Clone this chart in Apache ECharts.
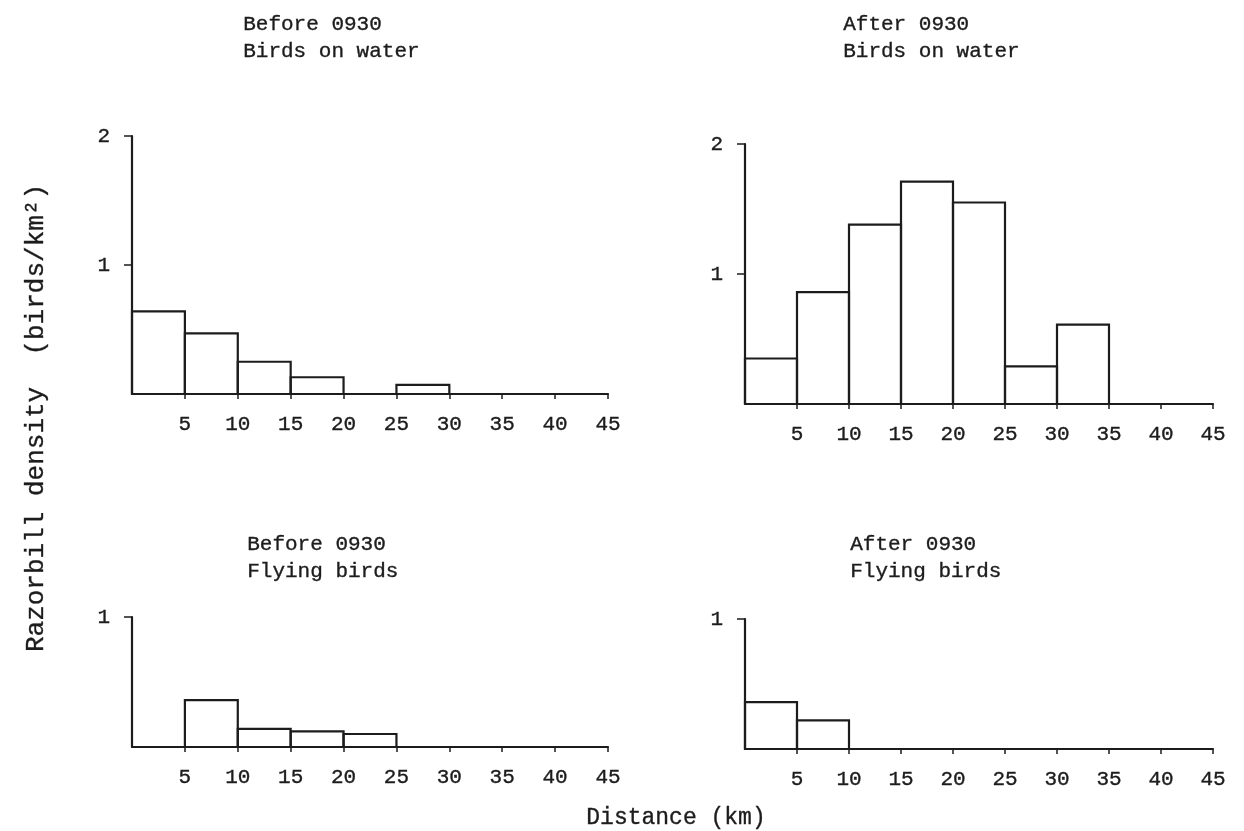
<!DOCTYPE html>
<html>
<head>
<meta charset="utf-8">
<title>Razorbill density by distance</title>
<script src="https://cdn.jsdelivr.net/npm/echarts@6/dist/echarts.min.js"></script>
<style>
  html, body { margin: 0; padding: 0; background: #ffffff; }
  #chart { width: 1244px; height: 831px; }
</style>
</head>
<body>
<div id="chart"></div>
<script>
// Distance bins (km): each bar covers [start, start + binWidth]
const binStarts = [0, 5, 10, 15, 20, 25, 30, 35, 40];
const binWidth = 5;

// Razorbill density (birds/km²) per distance bin
const beforeWater  = [0.64, 0.47, 0.25, 0.13, 0, 0.07, 0, 0, 0];
const afterWater   = [0.35, 0.86, 1.38, 1.71, 1.55, 0.29, 0.61, 0, 0];
const beforeFlying = [0, 0.36, 0.14, 0.12, 0.10, 0, 0, 0, 0];
const afterFlying  = [0.36, 0.22, 0, 0, 0, 0, 0, 0, 0];

// Tick labels
const xTickValues = [5, 10, 15, 20, 25, 30, 35, 40, 45];
const yTicksWater = [1, 2];
const yTicksFlying = [1];

// Panel titles
const panelTitles = [
  ['Before 0930', 'Birds on water'],
  ['After 0930', 'Birds on water'],
  ['Before 0930', 'Flying birds'],
  ['After 0930', 'Flying birds']
];

const FONT = '"Liberation Mono", "DejaVu Sans Mono", monospace';
const INK = '#1c1c1c';
// typewriter-style text: a hairline outline gives the glyphs some weight
const OUTLINE = 0.35;
const TEXT_WEIGHT = { textBorderColor: INK, textBorderWidth: OUTLINE };

const panels = [
  { values: beforeWater,  yMax: 2, yTicks: yTicksWater,  grid: { left: 132, top: 136, width: 476, height: 258 }, title: { x: 243, y: 11 } },
  { values: afterWater,   yMax: 2, yTicks: yTicksWater,  grid: { left: 745, top: 144, width: 468, height: 260 }, title: { x: 843, y: 11 } },
  { values: beforeFlying, yMax: 1, yTicks: yTicksFlying, grid: { left: 132, top: 617, width: 476, height: 130 }, title: { x: 247, y: 531 } },
  { values: afterFlying,  yMax: 1, yTicks: yTicksFlying, grid: { left: 745, top: 619, width: 468, height: 130 }, title: { x: 850, y: 531 } }
];

const grids = [], xAxes = [], yAxes = [], series = [], graphics = [];

panels.forEach((p, i) => {
  grids.push(Object.assign({ containLabel: false }, p.grid));

  xAxes.push({
    type: 'value', gridIndex: i, min: 0, max: 45, interval: 5,
    splitLine: { show: false },
    axisLine: { show: true, onZero: false, lineStyle: { color: INK, width: 2.2 } },
    axisTick: { show: true, length: 5, customValues: xTickValues, lineStyle: { color: INK, width: 1.5 } },
    axisLabel: Object.assign({ customValues: xTickValues, margin: 20, fontFamily: FONT, fontSize: 21, color: INK }, TEXT_WEIGHT)
  });

  yAxes.push({
    type: 'value', gridIndex: i, min: 0, max: p.yMax, interval: 1,
    splitLine: { show: false },
    axisLine: { show: true, lineStyle: { color: INK, width: 2.2 } },
    axisTick: { show: true, length: 8, customValues: p.yTicks, lineStyle: { color: INK, width: 1.5 } },
    axisLabel: Object.assign({ customValues: p.yTicks, margin: 22, fontFamily: FONT, fontSize: 21, color: INK }, TEXT_WEIGHT)
  });

  const data = binStarts.map((s, k) => [s, s + binWidth, p.values[k]]);

  series.push({
    type: 'custom', xAxisIndex: i, yAxisIndex: i,
    data: data,
    encode: { x: [0, 1], y: 2 },
    renderItem: function (params, api) {
      const h = api.value(2);
      if (!h) return null;
      const topLeft = api.coord([api.value(0), h]);
      const bottomRight = api.coord([api.value(1), 0]);
      return {
        type: 'rect',
        shape: {
          x: topLeft[0], y: topLeft[1],
          width: bottomRight[0] - topLeft[0],
          height: bottomRight[1] - topLeft[1]
        },
        style: { fill: 'none', stroke: INK, lineWidth: 2.2 }
      };
    }
  });

  graphics.push({
    type: 'text', left: p.title.x, top: p.title.y,
    style: {
      text: panelTitles[i].join('\n'),
      font: '21px ' + FONT, fill: INK, lineHeight: 27, textAlign: 'left',
      stroke: INK, lineWidth: OUTLINE
    }
  });
});

// Shared axis names
graphics.push({
  type: 'text', x: 36, y: 418, rotation: Math.PI / 2,
  style: {
    text: 'Razorbill density  (birds/km²)',
    font: '26px ' + FONT, fill: INK, textAlign: 'center', textVerticalAlign: 'middle',
    stroke: INK, lineWidth: OUTLINE
  }
});
graphics.push({
  type: 'text', x: 676, y: 818,
  style: {
    text: 'Distance (km)',
    font: '23px ' + FONT, fill: INK, textAlign: 'center', textVerticalAlign: 'middle',
    stroke: INK, lineWidth: OUTLINE
  }
});

const chart = echarts.init(document.getElementById('chart'), null, { renderer: 'canvas' });
chart.setOption({
  animation: false,
  backgroundColor: '#ffffff',
  grid: grids,
  xAxis: xAxes,
  yAxis: yAxes,
  series: series,
  graphic: graphics
});
</script>
</body>
</html>
